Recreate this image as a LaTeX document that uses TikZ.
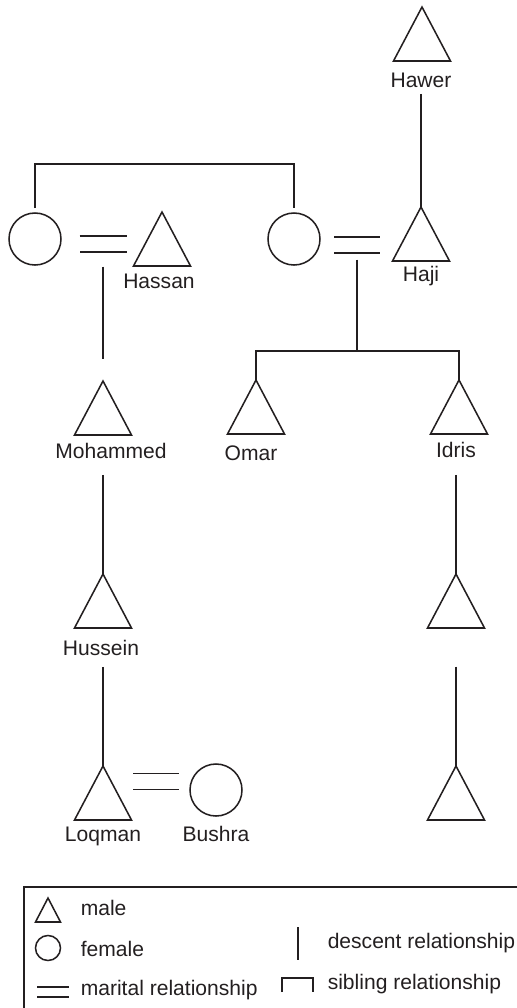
\documentclass[tikz,border=0pt]{standalone}
\usepackage{fontspec}
\setmainfont{Liberation Sans}
\usetikzlibrary{shapes.geometric,calc}
\definecolor{ink}{RGB}{35,31,32}

\tikzset{every picture/.style={line width=1.15pt}}
\tikzset{
  male/.style={draw=ink, isosceles triangle, shape border rotate=90,
    isosceles triangle stretches, minimum width=42.75pt, minimum height=40.5pt,
    inner sep=0pt, outer sep=0pt, anchor=apex},
  female/.style={draw=ink, circle, minimum size=39pt, inner sep=0pt, outer sep=0pt},
  lbl/.style={text=ink, inner sep=0pt, anchor=base, font=\fontsize{15.8}{18}\selectfont},
  keylbl/.style={lbl, anchor=base west},
  descent/.style={draw=ink},
  sibling/.style={draw=ink},
  marital/.style={draw=ink, double=white, double distance=11pt},
}

\begin{document}
\begin{tikzpicture}[x=0.75pt,y=0.75pt,yscale=-1]
  \useasboundingbox (0,0) rectangle (517,1008);

  % Persons: top generations
  \node[male] (hawer) at (422,7) {};
  \node[female] (wifeA) at (35,239) {};
  \node[male] (hassan) at (162,212) {};
  \node[female] (wifeB) at (294,239) {};
  \node[male] (haji) at (421,207) {};
  % Persons: children
  \node[male] (mohammed) at (103,381) {};
  \node[male] (omar) at (256,380) {};
  \node[male] (idris) at (459,380) {};
  \node[male] (hussein) at (103,574) {};
  \node[male] (idrisSon) at (456,574) {};
  \node[male] (loqman) at (103,766) {};
  \node[female] (bushra) at (216,790) {};
  \node[male] (grandson) at (456,766) {};

  % Text Node
  \node[lbl] (hawerlbl) at (421,87) {Hawer};
  \node[lbl] (hajilbl) at (421,281) {Haji};
  \node[lbl] (hassanlbl) at (159,288) {Hassan};
  \node[lbl] (mohammedlbl) at (111,458) {Mohammed};
  \node[lbl] (omarlbl) at (251,460) {Omar};
  \node[lbl] (idrislbl) at (456,457) {Idris};
  \node[lbl] (husseinlbl) at (101,655) {Hussein};
  \node[lbl] (loqmanlbl) at (103,841) {Loqman};
  \node[lbl] (bushralbl) at (216,841) {Bushra};

  % Marriages
  \coordinate (marA) at (103,244);
  \coordinate (marB) at (357,245);
  \coordinate (marC) at (156,781.5);
  \coordinate (famB) at (357,351);
  \draw[marital] ($(marA)+(-23.5,0)$) -- ($(marA)+(23.5,0)$);
  \draw[marital] ($(marB)+(-23,0)$) -- ($(marB)+(23,0)$);
  \draw[marital] ($(marC)+(-23,0)$) -- ($(marC)+(23,0)$);

  % Descent lines
  \draw[descent, shorten <=4.5pt] (hawerlbl.south -| haji.apex) -- (haji.apex);
  \draw[descent, shorten <=17pt, shorten >=16.5pt] (marA) -- (mohammed.apex);
  \draw[descent, shorten <=11pt] (marB) -- (famB);
  \draw[descent, shorten <=12pt] (mohammedlbl.south -| hussein.apex) -- (hussein.apex);
  \draw[descent, shorten <=8.25pt] (husseinlbl.south -| loqman.apex) -- (loqman.apex);
  \draw[descent, shorten <=12.75pt] (idrislbl.south -| idrisSon.apex) -- (idrisSon.apex);
  \draw[descent, shorten <=29pt] (idrisSon.lower side) -- (grandson.apex);

  % Sibling lines
  \draw[sibling, shorten <=3.75pt, shorten >=3.75pt] (wifeA.north) -- ++(0,-49) -| (wifeB.north);
  \draw[sibling] (omar.apex) |- (famB) -| (idris.apex);

  % Legend
  \draw[ink, line width=0.8pt] (24,1012) -- (24,887) -- (521,887);
  \node[male, minimum width=18.75pt, minimum height=18pt] (keymale) at (48,898) {};
  \node[female, minimum size=18.75pt] (keyfemale) at (48,948) {};
  \coordinate (keymar) at (53,992);
  \draw[marital, double distance=6.4pt] ($(keymar)+(-16,0)$) -- ($(keymar)+(16,0)$);
  \coordinate (keydescTop) at (298,927);
  \coordinate (keydescBot) at (298,960);
  \draw[descent] (keydescTop) -- (keydescBot);
  \coordinate (keysibL) at (282,992);
  \coordinate (keysibR) at (313,992);
  \draw[sibling] (keysibL) -- ++(0,-14) -| (keysibR);

  % Text Node
  \node[keylbl] (keymalelbl) at (80,915) {male};
  \node[keylbl] (keyfemalelbl) at (80,956) {female};
  \node[keylbl] (keymarlbl) at (80,995) {marital relationship};
  \node[keylbl] (keydesclbl) at (327,948) {descent relationship};
  \node[keylbl] (keysiblbl) at (327,989) {sibling relationship};
\end{tikzpicture}
\end{document}
